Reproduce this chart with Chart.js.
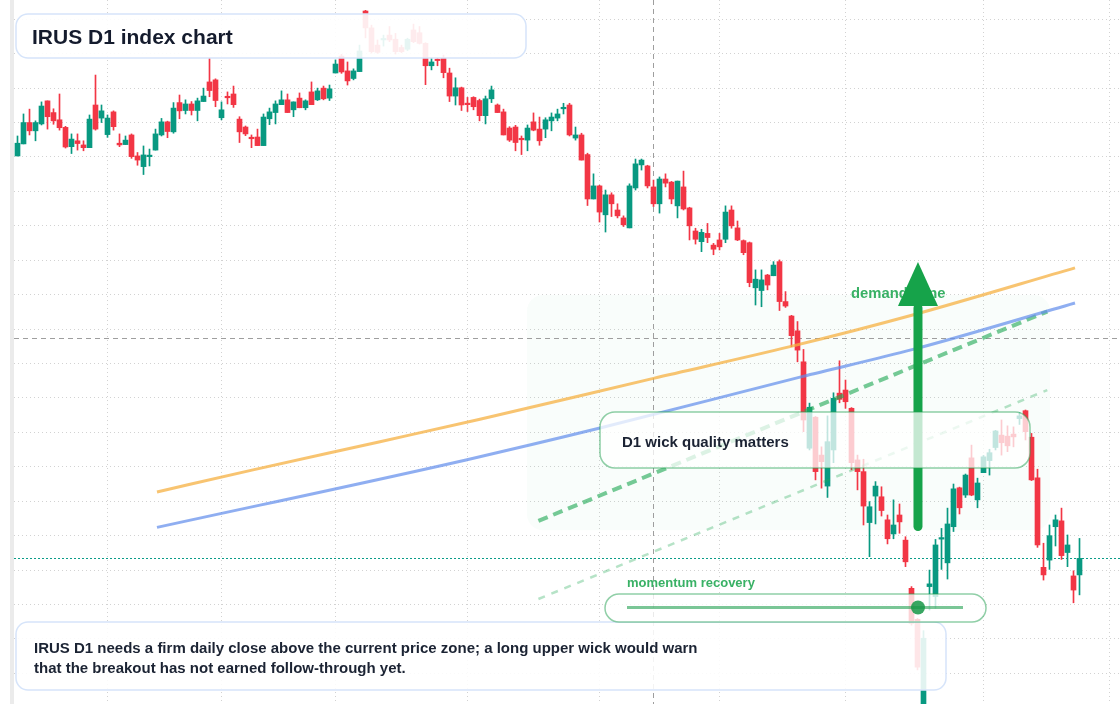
<!DOCTYPE html>
<html><head><meta charset="utf-8">
<script src="https://cdn.jsdelivr.net/npm/chart.js@4.4.1/dist/chart.umd.min.js"></script>
<style>html,body{margin:0;padding:0;background:#fff;}canvas{display:block;}</style>
</head><body>
<canvas id="c" width="1120" height="704"></canvas>
<script>
// ---- Daily OHLC values (index = trading day) ----
const opens = [350.3,353.8,360.0,357.6,359.6,366.3,362.9,360.8,358.6,353.0,
354.7,353.5,352.7,365.1,361.3,356.5,363.1,354.0,353.6,356.4,
350.3,347.2,350.1,352.0,356.4,360.2,357.3,365.8,363.5,365.4,
363.5,366.1,371.8,372.4,361.4,367.4,368.3,361.0,358.7,355.5,
355.8,353.3,361.1,362.9,365.2,366.6,363.7,367.1,364.3,368.9,
366.6,370.0,367.1,374.4,379.3,375.0,372.8,374.8,392.4,387.5,
382.5,384.0,385.4,384.2,381.8,381.3,386.9,386.1,383.0,376.5,
378.2,378.7,374.4,367.7,370.1,365.4,367.3,366.4,362.0,366.9,
365.1,363.1,358.4,358.7,355.2,354.9,360.2,358.1,358.1,360.5,
361.3,364.0,365.1,355.5,356.4,350.7,337.8,341.6,333.2,339.0,
334.6,332.3,329.4,341.0,347.7,347.4,341.3,336.4,343.6,342.7,
335.8,341.3,335.2,328.5,325.4,327.8,324.4,325.9,326.1,334.6,
329.4,325.7,325.1,312.0,311.2,315.7,315.5,319.6,308.0,303.8,
299.5,290.5,265.4,274.4,263.4,254.4,264.9,281.4,282.3,277.0,
262.0,258.6,243.8,251.5,251.3,244.6,240.5,246.0,238.7,224.7,
215.7,186.4,225.2,222.3,239.0,232.1,242.6,253.9,251.8,262.6,
250.4,258.3,261.8,265.6,269.2,268.9,269.5,274.0,276.3,268.6,
256.8,230.8,232.9,242.6,244.3,235.1,228.3,228.6];
const highs = [356.1,362.5,363.9,360.5,366.0,366.3,364.0,368.3,358.9,356.7,
356.7,354.7,362.2,373.8,365.1,362.2,363.4,356.7,356.1,356.7,
351.3,353.2,352.3,358.1,361.2,360.4,365.8,368.0,366.6,366.1,
367.1,370.0,378.7,372.7,366.0,368.9,370.6,361.7,359.0,356.4,
358.1,362.5,364.2,366.3,369.2,368.3,366.0,368.6,366.6,371.8,
370.0,370.6,370.9,378.2,379.8,377.6,375.6,382.5,392.6,388.3,
384.0,385.4,387.9,385.9,382.5,384.5,388.6,387.9,383.2,378.7,
378.6,379.6,375.8,373.0,370.3,367.3,367.5,366.8,367.7,370.6,
365.4,363.9,358.8,359.2,356.1,359.3,362.8,361.6,361.4,362.8,
363.9,365.6,365.6,358.7,356.9,351.1,345.1,341.8,340.4,339.6,
336.4,332.9,342.2,349.4,349.4,347.6,343.3,344.2,345.1,342.9,
343.0,345.9,335.4,329.3,329.0,330.7,324.9,327.8,335.8,335.8,
331.4,325.9,325.3,317.2,317.2,315.9,319.6,320.1,310.9,304.0,
302.2,294.1,278.5,274.6,265.8,274.8,281.5,290.8,285.2,277.2,
263.4,262.2,249.9,255.7,254.2,246.0,250.4,249.2,239.7,225.2,
215.9,212.4,230.0,238.9,242.1,248.0,255.0,254.1,257.9,266.3,
256.7,263.3,265.1,270.6,273.6,271.9,271.6,275.7,276.5,269.7,
259.3,237.8,243.1,246.0,248.0,240.2,229.8,239.2];
const lows = [350.3,353.8,356.4,354.7,359.3,358.1,359.5,357.8,352.6,351.0,
352.0,351.8,352.7,357.8,360.0,355.7,357.8,353.0,353.6,349.6,
347.6,344.9,347.4,352.0,356.1,355.6,356.9,361.1,362.5,362.2,
360.5,366.1,367.5,364.6,360.8,365.4,364.4,354.2,356.2,352.7,
353.3,353.3,359.4,359.6,365.2,362.9,361.7,364.3,363.7,365.2,
366.4,366.6,366.4,374.4,374.3,370.9,372.4,374.8,384.6,380.2,
380.1,382.2,383.5,379.9,380.3,380.9,383.2,382.8,371.0,375.3,
376.5,373.0,366.1,365.1,363.5,363.2,363.7,360.5,359.6,365.8,
362.9,356.4,354.5,351.8,350.7,351.8,357.6,353.4,355.6,357.6,
360.5,362.5,356.1,354.9,349.1,335.9,337.8,331.1,328.2,332.7,
332.3,329.8,329.4,340.4,346.2,341.0,335.6,333.7,341.3,336.4,
332.3,334.6,325.9,324.7,322.5,325.1,321.6,323.0,325.1,329.3,
325.7,321.6,312.3,307.0,306.5,311.4,315.5,305.4,306.3,294.9,
290.5,270.2,264.9,256.2,253.8,251.1,261.2,278.6,277.0,259.1,
253.3,243.1,233.9,243.4,245.7,237.6,239.1,240.7,231.0,214.0,
201.0,183.5,218.4,218.9,230.2,227.4,241.2,246.3,251.1,251.6,
248.1,258.3,257.6,264.9,263.4,264.4,265.8,272.3,267.8,256.0,
236.6,227.1,230.2,237.0,233.1,231.0,220.5,222.8];
const closes = [354.0,360.0,357.6,360.0,364.8,361.7,360.5,358.5,352.9,355.2,
353.9,352.7,361.0,358.1,363.4,361.3,358.8,353.5,354.9,350.1,
349.1,350.6,350.3,356.7,360.2,357.4,364.2,363.4,365.4,363.5,
366.3,367.7,369.3,366.4,363.7,367.2,365.2,357.3,356.7,355.3,
353.3,361.6,363.1,365.4,366.6,362.9,366.0,364.3,366.3,365.2,
369.2,366.9,369.8,377.0,374.7,372.1,375.0,380.8,387.5,380.6,
380.4,384.2,384.0,380.6,380.6,384.2,383.5,383.0,376.5,377.6,
378.0,374.5,367.7,370.1,365.1,365.2,364.6,362.0,366.9,369.5,
362.9,356.4,354.9,354.2,355.0,358.4,357.8,354.7,360.8,361.6,
362.5,364.2,356.4,356.4,349.1,337.8,341.6,334.0,339.0,336.4,
332.9,330.3,341.6,348.0,349.1,341.6,336.4,343.6,342.4,337.8,
343.0,334.9,330.0,326.1,328.1,326.6,323.2,323.9,334.0,330.0,
325.9,322.2,313.5,314.5,314.3,312.8,318.6,308.0,306.7,298.1,
293.9,273.6,277.3,258.6,261.5,267.3,279.9,279.6,278.9,261.2,
258.6,248.6,248.4,254.4,247.3,239.1,243.1,244.0,232.4,214.5,
201.8,210.2,226.0,237.3,239.3,243.4,253.6,248.1,257.6,251.8,
255.3,262.9,264.1,270.4,267.0,266.1,268.7,274.8,270.2,256.2,
237.3,228.6,240.0,244.6,234.2,237.3,224.2,233.4];

// month-start day indices (vertical grid) and horizontal grid price levels
const monthTickIdx = [15,34,53,75,97,117,138,161,182];
const priceGridLevels = [200,210,220,230,240,250,260,270,280,290,300,310,320,330,340,350,360,370,380,390];

// overlay curves (day index, price)
const upperTrendIdx = [23.25,39.25,60.42,77.08,106.0,128.75,149.2,176.25];
const upperTrendVal = [252.7,259.1,267.3,273.8,285.7,294.9,304.1,317.8];
const lowerTrendIdx = [23.25,74.75,97.42,130.75,149.25,176.25];
const lowerTrendVal = [242.4,262.0,271.4,286.2,294.1,307.6];
const channelIdx = [86.82,171.63];
const channelUpperVal = [244.3,305.1];
const channelLowerVal = [221.6,282.3];

// annotation anchors in data units
const zoneCfg = {i0:84.92, i1:172.08, top:309.9, bottom:241.6};
const arrowCfg = {i:150.08, from:241.35, headBase:306.7, to:319.5};
const crossCfg = {i:106, price:297.4};

const UP = '#089981', DOWN = '#f23645';
const FONT = '"Liberation Sans", Arial, Helvetica, sans-serif';

const bodyData = opens.map((o,i)=>({x:i, y:[o, closes[i]]}));
const wickData = lows.map((l,i)=>({x:i, y:[l, highs[i]]}));
const candleColor = ctx => { const i = ctx.dataIndex; if (i===undefined) return UP; return closes[i] >= opens[i] ? UP : DOWN; };

function rr(ctx,x,y,w,h,r){ctx.beginPath();ctx.moveTo(x+r,y);ctx.lineTo(x+w-r,y);ctx.arcTo(x+w,y,x+w,y+r,r);ctx.lineTo(x+w,y+h-r);ctx.arcTo(x+w,y+h,x+w-r,y+h,r);ctx.lineTo(x+r,y+h);ctx.arcTo(x,y+h,x,y+h-r,r);ctx.lineTo(x,y+r);ctx.arcTo(x,y,x+r,y,r);ctx.closePath();}

const overlay = {
  id:'overlay',
  beforeDraw(chart){
    const c = chart.ctx; c.save();
    c.fillStyle='#fff'; c.fillRect(0,0,chart.width,chart.height);
    c.fillStyle='#ebebeb'; c.fillRect(10,0,4,chart.height);
    c.restore();
  },
  beforeDatasetsDraw(chart){
    const {ctx, chartArea:a, scales:{x,y}} = chart;
    ctx.save();
    const zx1=x.getPixelForValue(zoneCfg.i0), zx2=x.getPixelForValue(zoneCfg.i1);
    const zy1=y.getPixelForValue(zoneCfg.top), zy2=y.getPixelForValue(zoneCfg.bottom);
    rr(ctx,zx1,zy1,zx2-zx1,zy2-zy1,16); ctx.fillStyle='rgba(34,197,94,0.028)'; ctx.fill();
    ctx.lineWidth=1; ctx.strokeStyle='#9e9e9e'; ctx.setLineDash([5,4]);
    const cx=Math.round(x.getPixelForValue(crossCfg.i))+0.5;
    ctx.beginPath(); ctx.moveTo(cx,a.top); ctx.lineTo(cx,a.bottom); ctx.stroke();
    const cy=Math.round(y.getPixelForValue(crossCfg.price))+0.5;
    ctx.beginPath(); ctx.moveTo(a.left,cy); ctx.lineTo(a.right,cy); ctx.stroke();
    const ly=Math.round(y.getPixelForValue(closes[closes.length-1]))+0.5;
    ctx.strokeStyle='#0a9c88'; ctx.setLineDash([2,2]);
    ctx.beginPath(); ctx.moveTo(a.left,ly); ctx.lineTo(a.right,ly); ctx.stroke();
    ctx.restore();
  },
  afterDraw(chart){
    const {ctx, scales:{x,y}} = chart;
    ctx.save();
    ctx.textBaseline='alphabetic';
    // demand zone label
    ctx.font='bold 14.8px '+FONT; ctx.fillStyle='rgba(22,163,74,0.85)';
    ctx.fillText('demand zone', 851, 298);
    // arrow
    const ax=x.getPixelForValue(arrowCfg.i), yb=y.getPixelForValue(arrowCfg.from);
    const yh=y.getPixelForValue(arrowCfg.headBase), yt=y.getPixelForValue(arrowCfg.to);
    ctx.strokeStyle='#16a34a'; ctx.fillStyle='#16a34a'; ctx.lineWidth=9; ctx.lineCap='round';
    ctx.beginPath(); ctx.moveTo(ax,yb-4.5); ctx.lineTo(ax,yh+2); ctx.stroke();
    ctx.beginPath(); ctx.moveTo(ax,yt); ctx.lineTo(ax+20,yh); ctx.lineTo(ax-20,yh); ctx.closePath(); ctx.fill();
    ctx.lineCap='butt';
    // title box
    rr(ctx,16,14,510,44,12); ctx.fillStyle='rgba(255,255,255,0.9)'; ctx.fill();
    ctx.lineWidth=1.5; ctx.strokeStyle='#d6e4fa'; ctx.stroke();
    ctx.fillStyle='#141b2d'; ctx.font='bold 21px '+FONT; ctx.fillText('IRUS D1 index chart', 32, 43.5);
    // note box
    rr(ctx,16,622,930,68,12); ctx.fillStyle='rgba(255,255,255,0.88)'; ctx.fill();
    ctx.lineWidth=1.5; ctx.strokeStyle='#d6e4fa'; ctx.stroke();
    ctx.fillStyle='#1b2333'; ctx.font='bold 15px '+FONT;
    ctx.fillText('IRUS D1 needs a firm daily close above the current price zone; a long upper wick would warn', 34, 653);
    ctx.fillText('that the breakout has not earned follow-through yet.', 34, 673);
    // D1 box
    rr(ctx,600,412,430,56,15); ctx.fillStyle='rgba(255,255,255,0.75)'; ctx.fill();
    ctx.lineWidth=1.5; ctx.strokeStyle='rgba(34,160,80,0.5)'; ctx.stroke();
    ctx.fillStyle='#1b2333'; ctx.font='bold 15px '+FONT; ctx.fillText('D1 wick quality matters', 622, 446.5);
    // momentum
    ctx.font='bold 13px '+FONT; ctx.fillStyle='rgba(22,163,74,0.85)'; ctx.fillText('momentum recovery', 627, 587);
    rr(ctx,605,594,381,28,14); ctx.fillStyle='rgba(255,255,255,0.78)'; ctx.fill();
    ctx.lineWidth=1.5; ctx.strokeStyle='rgba(34,160,80,0.5)'; ctx.stroke();
    ctx.strokeStyle='rgba(34,160,80,0.6)'; ctx.lineWidth=3;
    ctx.beginPath(); ctx.moveTo(627,607.5); ctx.lineTo(963,607.5); ctx.stroke();
    ctx.fillStyle='rgba(22,150,70,0.85)'; ctx.beginPath(); ctx.arc(918,607.5,7,0,Math.PI*2); ctx.fill();
    ctx.restore();
  }
};

new Chart(document.getElementById('c'), {
  type:'bar',
  data:{ datasets:[
    {type:'line', data:upperTrendIdx.map((v,i)=>({x:v,y:upperTrendVal[i]})), borderColor:'rgba(245,176,65,0.75)', borderWidth:3, pointRadius:0, cubicInterpolationMode:'monotone', order:0},
    {type:'line', data:lowerTrendIdx.map((v,i)=>({x:v,y:lowerTrendVal[i]})), borderColor:'rgba(96,140,235,0.7)', borderWidth:3, pointRadius:0, cubicInterpolationMode:'monotone', order:0},
    {type:'line', data:channelIdx.map((v,i)=>({x:v,y:channelUpperVal[i]})), borderColor:'rgba(34,170,85,0.62)', borderWidth:4, borderDash:[10,6], pointRadius:0, order:0},
    {type:'line', data:channelIdx.map((v,i)=>({x:v,y:channelLowerVal[i]})), borderColor:'rgba(34,170,85,0.33)', borderWidth:2.5, borderDash:[7,7], pointRadius:0, order:0},
    {type:'bar', data:bodyData, backgroundColor:candleColor, barThickness:5, minBarLength:1.5, grouped:false, order:1},
    {type:'bar', data:wickData, backgroundColor:candleColor, barThickness:1, grouped:false, order:2}
  ]},
  options:{
    responsive:false, animation:false, devicePixelRatio:1,
    layout:{padding:{left:14,right:0,top:0,bottom:0}},
    plugins:{legend:{display:false}, tooltip:{enabled:false}},
    scales:{
      x:{type:'linear', min:-0.5833, max:183.75, offset:false,
        grid:{color:'#d2d2d2', lineWidth:1, drawTicks:false, offset:false},
        border:{display:false, dash:[1,3]}, ticks:{display:false},
        afterBuildTicks:s=>{s.ticks = monthTickIdx.map(v=>({value:v}));},
        afterFit:s=>{s.height=0;}},
      y:{type:'linear', min:191.1, max:395.6,
        grid:{color:'#d2d2d2', lineWidth:1, drawTicks:false},
        border:{display:false, dash:[1,3]}, ticks:{display:false},
        afterBuildTicks:s=>{s.ticks = priceGridLevels.map(v=>({value:v}));},
        afterFit:s=>{s.width=0;}}
    }
  },
  plugins:[overlay]
});
</script>
</body></html>
